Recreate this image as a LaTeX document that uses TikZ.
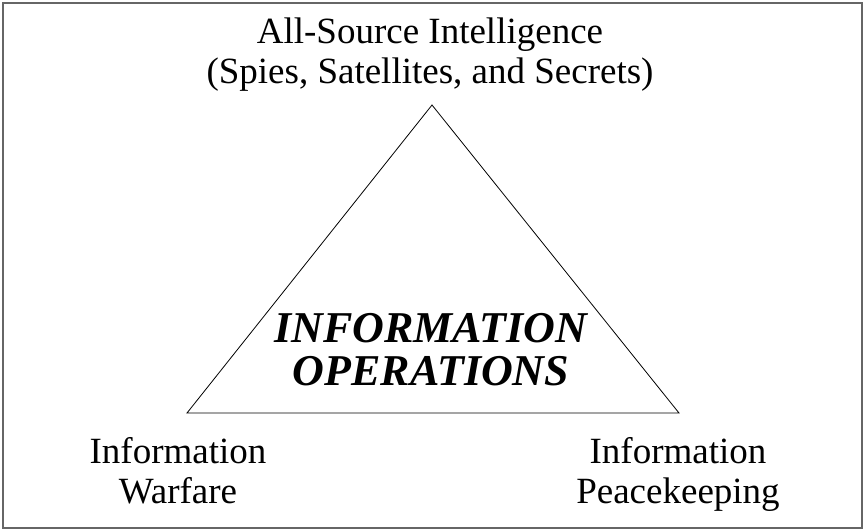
\documentclass[tikz,border=0pt]{standalone}
\usepackage{fontspec}
\setmainfont{Liberation Serif}
\usetikzlibrary{positioning}

\begin{document}
\begin{tikzpicture}[x=1pt,y=-1pt]
        
        \tikzstyle{every node}=[align=center,inner sep=0pt,anchor=base,font=\fontsize{37}{40}\selectfont]
        \tikzstyle{title}=[font=\fontsize{44}{43}\selectfont\bfseries\itshape]
        \useasboundingbox (0,0) rectangle (865,531);
        \draw[gray!80!black,line width=1.2pt] (3,3) rectangle (862,528);
        
        \coordinate (T) at (432,105);
        \coordinate (L) at (187,413);
        \coordinate (R) at (679,413);
        \draw[line width=0.8pt] (T) -- (L) -- (R) -- cycle;
        
        \node (intel) at (430,83) {All-Source Intelligence\\(Spies, Satellites, and Secrets)};
        \node[title] (io) at (431,385) {INFORMATION\\OPERATIONS};
        \node (war) at (178,503) {Information\\Warfare};
        \node (peace) at (678,503) {Information\\Peacekeeping};
      \end{tikzpicture}
\end{document}
